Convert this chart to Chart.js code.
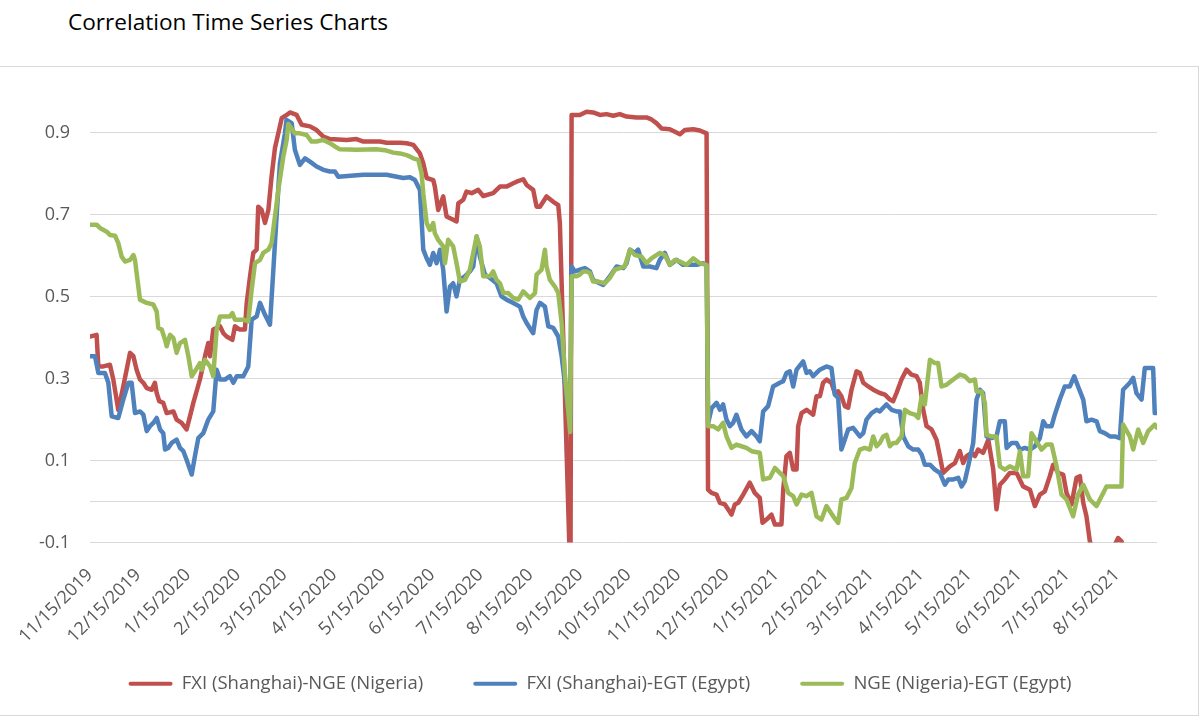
<!DOCTYPE html>
<html>
<head>
<meta charset="utf-8">
<script src="https://cdn.jsdelivr.net/npm/chart.js@4.4.1/dist/chart.umd.min.js"></script>
<style>
  html, body { margin: 0; padding: 0; background: #fff; }
  body { width: 1200px; height: 721px; position: relative; overflow: hidden; font-family: "Open Sans", sans-serif; }
  #title { position: absolute; left: 68px; top: 6px; font-size: 22.6px; color: #000; white-space: nowrap; }
  #frame { position: absolute; left: -2px; top: 66px; width: 1201px; height: 650px; border: 1px solid #d9d9d9; box-sizing: border-box; }
  #chart { position: absolute; left: 0; top: 0; }
</style>
</head>
<body>
<div id="title">Correlation Time Series Charts</div>
<div id="frame"></div>
<canvas id="chart" width="1200" height="721"></canvas>
<script>
// days are counted from 11/15/2019
const seriesNames = ['FXI (Shanghai)-NGE (Nigeria)', 'FXI (Shanghai)-EGT (Egypt)', 'NGE (Nigeria)-EGT (Egypt)'];

const xTickLabels = ['11/15/2019', '12/15/2019', '1/15/2020', '2/15/2020', '3/15/2020', '4/15/2020', '5/15/2020',
  '6/15/2020', '7/15/2020', '8/15/2020', '9/15/2020', '10/15/2020', '11/15/2020', '12/15/2020', '1/15/2021',
  '2/15/2021', '3/15/2021', '4/15/2021', '5/15/2021', '6/15/2021', '7/15/2021', '8/15/2021'];
const lastDay = 664;

const yTickValues = [-0.1, 0, 0.1, 0.3, 0.5, 0.7, 0.9];
const yTickLabels = ['-0.1', '', '0.1', '0.3', '0.5', '0.7', '0.9'];

const redDays = [0,4.1,5.2,8.3,12.4,14.5,17.6,20.7,24.9,27,29,31.1,33.2,35.3,38.4,40.4,41.5,43.1,45.6,47.7,
  51.9,53.9,57,60.1,62.2,64.3,68.4,71.6,73.6,74.7,76.7,80.9,83,85,88.6,90.2,93.3,96.4,97.5,99.6,
  101.6,103.7,104.7,106.8,108.9,111,113,115.1,117.2,119.3,122.4,124.4,128.6,131.7,136.9,141,145.2,149.3,159.7,165.9,
  170.1,180.4,184.6,192.9,197,201.2,205.3,207.4,209.5,213.6,214.6,216.7,219.8,221.9,226,228.1,229.2,232.3,234.3,237.5,
  241.6,244.7,250.9,255.1,259.2,263.4,265.5,269.6,271.7,275.8,277.9,280,284.1,288.3,291.4,292.4,299,299.7,304.8,309,
  313.1,317.3,321.4,325.6,329.7,333.9,340.1,346.3,349.4,352.5,355.7,360.8,364,367.1,370.2,375.4,379.5,383.7,384.6,386.8,
  389.9,392,395.1,397.1,399.2,401.3,403.4,406.5,410.6,413.7,416.8,418.5,421,424.1,426.2,430.3,431.4,433.4,435.5,437.6,
  439.7,440.7,442.8,445.9,450,452.1,454.2,456.2,458.3,461.4,463.5,465.6,467.6,469.7,471.8,473.9,477,479.1,481.2,484.3,
  487.4,491.5,494.7,497.8,499.8,501.9,505,508.1,511.2,514.4,516.4,518.5,520.6,523.7,526.8,528.9,530.9,533,535.1,538.2,
  541.3,543.4,545.5,548.6,550.7,552.7,555.8,559,562.1,564.1,566.2,569.3,572.4,576.6,580.7,584.9,588,591.1,594.2,597.3,
  599.4,602.5,605.6,607.7,610.8,613.9,616,618.1,620.1,622.2,625,636,639.8,641.9,644,664];
const redVals = [0.403,0.407,0.330,0.330,0.334,0.298,0.224,0.281,0.363,0.355,0.322,0.298,0.290,0.277,0.273,0.290,0.265,0.245,0.241,0.216,
  0.220,0.200,0.192,0.176,0.208,0.241,0.298,0.355,0.387,0.355,0.420,0.428,0.411,0.403,0.395,0.428,0.420,0.420,0.484,0.550,
  0.607,0.615,0.720,0.712,0.680,0.712,0.794,0.863,0.899,0.936,0.944,0.950,0.944,0.920,0.916,0.907,0.891,0.885,0.883,0.885,
  0.879,0.879,0.876,0.876,0.875,0.871,0.850,0.826,0.790,0.785,0.769,0.712,0.745,0.696,0.688,0.684,0.728,0.737,0.757,0.753,
  0.761,0.746,0.753,0.769,0.769,0.777,0.781,0.787,0.773,0.761,0.720,0.720,0.745,0.732,0.724,0.680,-0.200,0.944,0.944,0.952,
  0.950,0.944,0.946,0.942,0.946,0.940,0.938,0.938,0.933,0.924,0.911,0.909,0.903,0.897,0.907,0.909,0.906,0.899,0.029,0.021,
  0.017,-0.003,-0.007,-0.019,-0.032,-0.007,-0.003,0.017,0.046,0.021,0.009,-0.052,-0.044,-0.032,-0.056,-0.056,0.029,0.111,0.119,0.078,
  0.078,0.184,0.216,0.224,0.212,0.257,0.257,0.290,0.298,0.290,0.265,0.269,0.257,0.233,0.229,0.273,0.318,0.314,0.290,0.281,
  0.273,0.265,0.261,0.249,0.245,0.265,0.298,0.322,0.310,0.306,0.290,0.224,0.184,0.176,0.151,0.111,0.070,0.078,0.086,0.094,
  0.123,0.094,0.111,0.119,0.111,0.127,0.119,0.151,0.078,-0.019,0.041,0.054,0.070,0.070,0.037,0.029,-0.011,0.017,0.025,0.062,
  0.090,0.070,0.066,0.021,-0.007,0.058,0.062,-0.003,-0.036,-0.097,-0.125,-0.120,-0.089,-0.097,-0.130,-0.140];

const blueDays = [0,3.1,5.2,9.3,11.4,13.5,17.6,20.7,23.9,25.9,28,31.1,33.2,35.3,37.3,39.4,41.5,43.6,45.6,46.7,
  48.7,50.8,53.9,56,58.1,60.1,63.3,65.3,67.4,70.5,73.6,76.7,78.8,80.9,84,87.1,89.2,91.3,95.4,98.5,
  100.6,103.7,105.8,108.9,112,114.1,116.1,118.2,121.3,122.3,125.5,127.5,130.6,133.8,136.9,141,145.2,149.3,152.4,154.5,
  170.1,184.6,194.9,199.1,202.2,205.3,207.4,209.5,211.5,213.6,215.7,217.8,219.8,221.9,224,226,228.1,230.2,233.3,236.4,
  238.5,240.6,242.6,245.8,248.9,253,256.1,259.2,263.4,267.5,269.6,271.7,275.8,277.9,280,283.1,285.2,288.3,291.4,293.5,
  295.5,298.8,299.7,301.7,304.8,308,311.1,313.1,315.2,319.4,323.5,327.7,331.8,333.9,336,339.1,341.1,344.3,348.4,352.5,
  354.6,357.7,360.8,365,369.1,377.4,381.6,383.7,384.7,386.8,389.9,392,394,396.1,398.2,400.2,402.3,405.4,408.5,411.7,
  414.8,416.8,418.9,422,425.1,429.3,431.4,433.4,435.5,437.6,439.7,443.8,445.9,447.9,450,454.2,458.3,461.4,463.5,465.6,
  467.6,469.7,471.8,474.9,479.1,481.2,483.2,486.4,489.5,491.5,493.6,495.7,498.8,501.9,504,506.1,509.2,512.3,515.4,517.5,
  519.5,522.7,525.8,528.9,532,534.1,537.2,540.3,542.4,544.4,546.5,549.6,551.7,553.8,555.8,557.9,561,564.1,566.2,569.3,
  570.4,573.5,576.6,578.7,581.8,584.9,588,591.1,593.2,595.2,598.4,600.4,603.5,606.6,609.8,612.5,614.9,618.1,620.1,623.2,
  626.4,628.4,631.5,634.7,637.8,640.9,642.9,647.1,649.2,651.2,654.4,656.4,661.6,662.6,664];
const blueVals = [0.355,0.355,0.314,0.314,0.290,0.208,0.204,0.249,0.290,0.290,0.216,0.220,0.212,0.172,0.184,0.192,0.204,0.176,0.167,0.127,
  0.131,0.143,0.151,0.131,0.123,0.102,0.066,0.111,0.155,0.167,0.200,0.220,0.322,0.298,0.298,0.306,0.290,0.306,0.306,0.330,
  0.444,0.452,0.485,0.456,0.432,0.566,0.696,0.826,0.899,0.932,0.924,0.859,0.822,0.838,0.830,0.818,0.810,0.806,0.806,0.793,
  0.798,0.798,0.790,0.792,0.785,0.761,0.615,0.594,0.578,0.607,0.582,0.615,0.566,0.464,0.525,0.533,0.501,0.542,0.550,0.562,
  0.574,0.647,0.598,0.554,0.546,0.533,0.501,0.493,0.485,0.476,0.452,0.436,0.411,0.468,0.485,0.476,0.428,0.424,0.403,0.355,
  0.290,0.180,0.574,0.562,0.566,0.570,0.562,0.541,0.537,0.529,0.550,0.574,0.570,0.582,0.615,0.607,0.615,0.574,0.574,0.570,
  0.590,0.607,0.578,0.590,0.578,0.578,0.582,0.578,0.192,0.228,0.241,0.224,0.237,0.200,0.184,0.192,0.212,0.176,0.159,0.172,
  0.159,0.147,0.220,0.233,0.281,0.290,0.294,0.314,0.318,0.281,0.322,0.342,0.314,0.318,0.306,0.322,0.330,0.326,0.261,0.253,
  0.127,0.151,0.176,0.180,0.159,0.167,0.200,0.216,0.224,0.220,0.229,0.237,0.224,0.220,0.220,0.159,0.135,0.127,0.127,0.115,
  0.090,0.090,0.078,0.070,0.041,0.054,0.054,0.058,0.037,0.050,0.086,0.143,0.249,0.273,0.265,0.159,0.155,0.159,0.196,0.196,
  0.131,0.143,0.143,0.127,0.131,0.127,0.135,0.155,0.196,0.184,0.184,0.212,0.249,0.281,0.281,0.306,0.281,0.249,0.196,0.200,
  0.196,0.172,0.167,0.159,0.159,0.155,0.273,0.290,0.302,0.265,0.249,0.326,0.326,0.216,0.216];

const greenDays = [0,4.1,6.2,10.4,12.4,15.6,17.6,19.7,21.8,24.9,27,28,31.1,35.3,39.4,41.5,42.5,44.6,46.7,47.7,
  49.8,51.9,53.9,56,59.1,61.2,63.3,65.3,68.4,69.5,71.6,74.7,76.7,78.8,80.9,87.1,88.6,90.2,95.4,98.5,
  100.6,102.7,105.8,107.8,111,113,115.1,117.2,120.3,122.4,123.4,127.5,130.6,134.8,137.9,141,145.2,149.3,152.4,155.5,
  165.9,178.3,184.6,188.7,192.9,197,201.2,204.3,206.3,207.4,209.5,211.5,213.6,214.6,216.7,219.8,220.9,222.9,226,228.1,
  230.2,233.3,236.4,238.5,240.6,242.6,244.7,248.9,250.9,253,255.1,257.2,260.3,263.4,266.5,269.6,273.8,276.9,277.9,281,
  283.1,284.1,286.2,289.3,291.4,293.5,295.5,298.8,299.7,302.8,304.8,306.9,309,311.1,313.1,316.3,320.4,323.5,326.6,329.7,
  332.8,336,339.1,343.2,346.3,349.4,354.6,357.7,360.8,364,367.1,371.2,375.4,379.5,383.7,384.7,387.8,390.9,394,396.1,
  399.2,402.3,405.4,408.5,411.7,416.8,418.9,423.1,426.2,429.3,431.4,434.5,437.6,439.7,442.8,445.9,449,452.1,455.2,458.3,
  462.5,465.6,467.6,470.8,473.9,475.9,479.1,482.2,485.3,487.4,489.5,491.5,493.6,495.7,497.8,499.8,501.9,505,507.1,510.2,
  513.3,515.4,517.5,519.5,522.7,525.8,527.8,529.9,533,537.2,541.3,544.4,547.5,550.7,551.7,554.8,556.9,557.9,561,564.1,
  566.2,569.3,572.4,576.6,578.7,580.7,583.8,585.9,589,592.1,595.2,598.4,601.5,604.6,607.7,611.8,614.9,618.1,622.2,626.4,
  629.5,632.6,641.9,642.9,647.1,649.2,652.3,655.4,658.5,662.6,664];
const greenVals = [0.676,0.676,0.668,0.659,0.651,0.649,0.631,0.598,0.586,0.590,0.602,0.590,0.493,0.485,0.481,0.464,0.424,0.420,0.395,0.379,
  0.407,0.399,0.363,0.387,0.395,0.355,0.306,0.318,0.338,0.322,0.346,0.330,0.306,0.420,0.452,0.452,0.460,0.444,0.444,0.440,
  0.517,0.582,0.590,0.607,0.615,0.631,0.696,0.761,0.842,0.883,0.922,0.899,0.899,0.895,0.879,0.879,0.883,0.875,0.867,0.860,
  0.859,0.860,0.857,0.852,0.850,0.846,0.838,0.834,0.802,0.753,0.680,0.663,0.680,0.655,0.639,0.623,0.582,0.639,0.623,0.582,
  0.537,0.541,0.566,0.607,0.647,0.623,0.550,0.550,0.562,0.541,0.533,0.509,0.509,0.497,0.493,0.513,0.497,0.509,0.554,0.566,
  0.615,0.574,0.541,0.525,0.509,0.436,0.314,0.170,0.550,0.550,0.554,0.562,0.562,0.558,0.537,0.537,0.533,0.546,0.566,0.570,
  0.574,0.615,0.602,0.598,0.582,0.594,0.607,0.602,0.578,0.590,0.586,0.578,0.594,0.582,0.578,0.184,0.184,0.176,0.192,0.159,
  0.131,0.139,0.135,0.131,0.123,0.119,0.054,0.058,0.082,0.070,0.062,0.021,0.013,-0.007,0.017,0.013,0.021,-0.036,-0.044,-0.011,
  -0.036,-0.052,0.005,0.009,0.033,0.094,0.127,0.131,0.127,0.159,0.135,0.143,0.159,0.163,0.135,0.143,0.143,0.159,0.224,0.216,
  0.212,0.204,0.257,0.237,0.346,0.338,0.338,0.281,0.285,0.298,0.310,0.306,0.294,0.298,0.269,0.269,0.241,0.163,0.159,0.159,
  0.086,0.078,0.086,0.078,0.123,0.062,0.062,0.167,0.147,0.127,0.139,0.139,0.086,0.017,0.005,-0.036,0.017,0.041,0.005,-0.011,
  0.013,0.037,0.037,0.188,0.159,0.127,0.176,0.143,0.172,0.188,0.180];

const startDate = Date.UTC(2019, 10, 15);
function dayOf(label) {
  const [m, d, y] = label.split('/').map(Number);
  return (Date.UTC(y, m - 1, d) - startDate) / 864e5;
}
const toPoints = (days, vals) => days.map((d, i) => ({ x: d, y: vals[i] }));

const tickFont = { family: 'Open Sans', size: 18 };

new Chart(document.getElementById('chart'), {
  type: 'line',
  data: {
    datasets: [
      { label: seriesNames[0], data: toPoints(redDays, redVals), borderColor: '#C0504D', backgroundColor: '#C0504D', order: 3 },
      { label: seriesNames[1], data: toPoints(blueDays, blueVals), borderColor: '#4F81BD', backgroundColor: '#4F81BD', order: 2 },
      { label: seriesNames[2], data: toPoints(greenDays, greenVals), borderColor: '#9BBB59', backgroundColor: '#9BBB59', order: 1 }
    ]
  },
  options: {
    responsive: false,
    animation: false,
    layout: { padding: { top: 92, bottom: 18, left: 0, right: 0 } },
    elements: {
      line: { borderWidth: 4.5, tension: 0, borderJoinStyle: 'round', borderCapStyle: 'round', fill: false },
      point: { radius: 0, hoverRadius: 0 }
    },
    datasets: { line: { clip: 0, xAxisID: 'x', yAxisID: 'y' } },
    scales: {
      x: {
        type: 'linear', min: 0, max: lastDay,
        grid: { display: false }, border: { display: false },
        afterBuildTicks: s => { s.ticks = xTickLabels.map(l => ({ value: dayOf(l) })); },
        afterFit: s => {
          s.height = 82;
          // the rotated labels reach below the axis box, so don't clip them to it
          s._computeLabelArea = () => undefined;
        },
        ticks: {
          autoSkip: false, minRotation: 45, maxRotation: 45, padding: 14, labelOffset: 0,
          color: '#595959', font: tickFont,
          callback: (v, i) => xTickLabels[i]
        }
      },
      y: {
        min: -0.1, max: 1.0,
        grid: { color: '#d9d9d9', lineWidth: 1, drawTicks: false }, border: { display: false },
        afterBuildTicks: s => { s.ticks = yTickValues.map(v => ({ value: v })); },
        afterFit: s => { s.width = 90; },
        ticks: { padding: 20, color: '#595959', font: tickFont, callback: (v, i) => yTickLabels[i] }
      },
      pad: {
        type: 'linear', position: 'right', display: true,
        grid: { display: false }, border: { display: false }, ticks: { display: false },
        afterFit: s => { s.width = 43; }
      }
    },
    plugins: {
      tooltip: { enabled: false },
      legend: {
        position: 'bottom',
        labels: {
          boxWidth: 44, boxHeight: 4, padding: 50, useBorderRadius: true, borderRadius: 2,
          color: '#595959', font: { family: 'Open Sans', size: 18.5 },
          generateLabels: chart => Chart.defaults.plugins.legend.labels.generateLabels(chart)
            .map(item => Object.assign(item, { lineWidth: 0, fillStyle: item.strokeStyle, borderRadius: 2 }))
            .sort((a, b) => a.datasetIndex - b.datasetIndex)
        }
      }
    }
  }
});
</script>
</body>
</html>
